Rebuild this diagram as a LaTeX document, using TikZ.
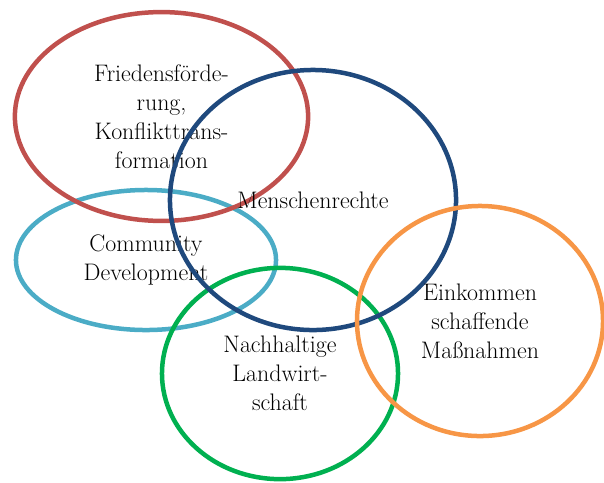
\documentclass[tikz,border=0pt]{standalone}
\usepackage{tikz}
\usetikzlibrary{shapes.geometric}
\definecolor{ringred}{HTML}{C0504D}
\definecolor{ringnavy}{HTML}{1F497D}
\definecolor{ringaqua}{HTML}{4BACC6}
\definecolor{ringgreen}{HTML}{00B050}
\definecolor{ringorange}{HTML}{F79646}

\begin{document}
\begin{tikzpicture}[
    x=0.025cm, y=-0.025cm,
    ring/.style={ellipse, draw, line width=3.2pt, inner sep=0pt,
      align=center, font=\fontsize{17}{20.6}\selectfont}]
    \useasboundingbox (0,0) rectangle (604,482);
    \node[ring, draw=ringaqua, minimum width=6.5cm, minimum height=3.5cm]
      (community) at (146,260) {Community\\Development};
    \node[ring, draw=ringred, minimum width=7.33cm, minimum height=5.22cm]
      (peace) at (161.5,116.5) {Friedensförde-\\rung,\\Konflikttrans-\\formation};
    \node[ring, draw=ringgreen, minimum width=5.9cm, minimum height=5.28cm]
      (farming) at (280,373.5) {Nachhaltige\\Landwirt-\\schaft};
    \node[ring, draw=ringnavy, minimum width=7.15cm, minimum height=6.5cm]
      (rights) at (313,200) {Menschenrechte};
    \node[ring, draw=ringorange, minimum width=6.15cm, minimum height=5.75cm]
      (income) at (480,321) {Einkommen\\schaffende\\Maßnahmen};
  \end{tikzpicture}
\end{document}
